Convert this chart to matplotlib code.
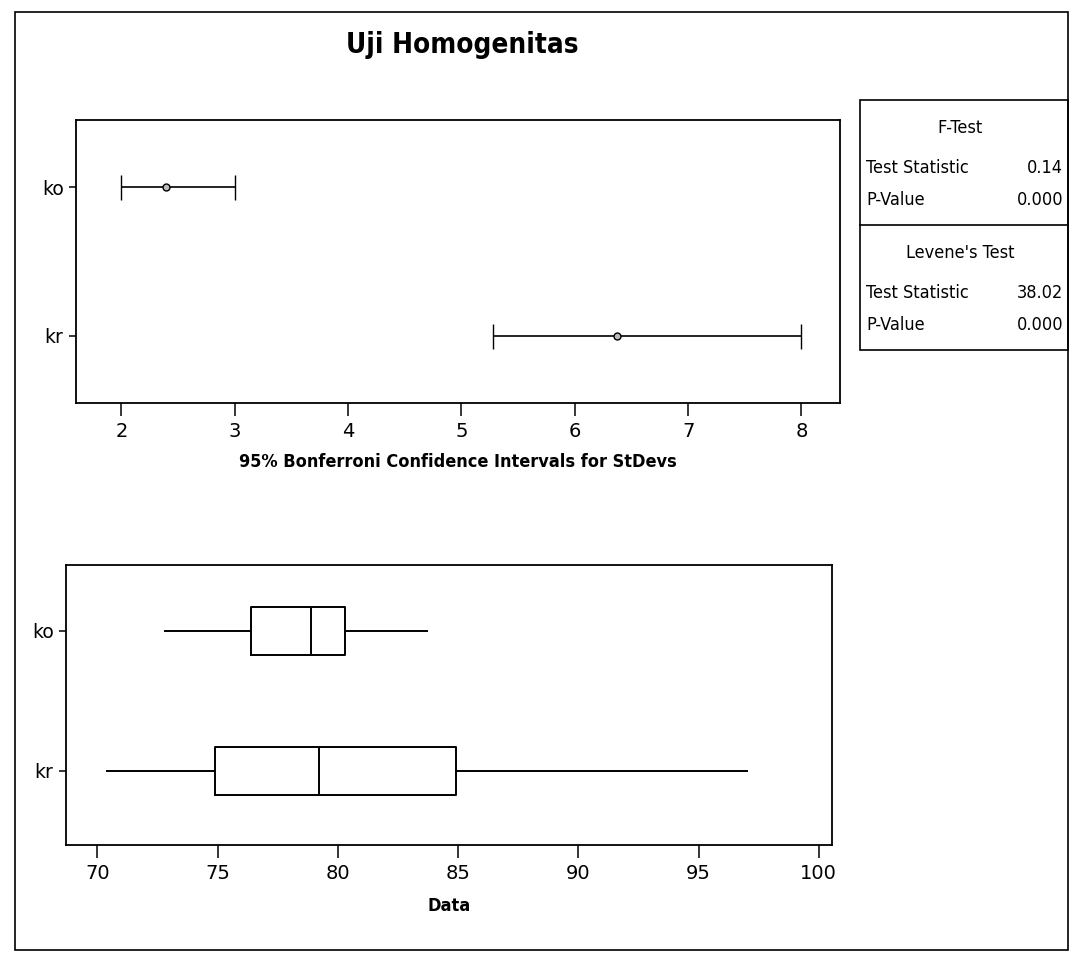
import matplotlib
matplotlib.use("Agg")
import matplotlib.pyplot as plt
from matplotlib.patches import Rectangle
from matplotlib.lines import Line2D

# ---- data ----
groups = ["ko", "kr"]
ci_lower = [2.00, 5.28]
ci_sd = [2.39, 6.37]
ci_upper = [3.00, 8.00]

box_whislo = [72.8, 70.4]
box_q1 = [76.4, 74.9]
box_med = [78.9, 79.2]
box_q3 = [80.3, 84.9]
box_whishi = [83.7, 97.0]

ci_ticks = [2, 3, 4, 5, 6, 7, 8]
data_ticks = [70, 75, 80, 85, 90, 95, 100]

stats_rows = [("F-Test", None), ("Test Statistic", "0.14"), ("P-Value", "0.000"),
              ("Levene's Test", None), ("Test Statistic", "38.02"), ("P-Value", "0.000")]

title = "Uji Homogenitas"
ci_xlabel = "95% Bonferroni Confidence Intervals for StDevs"
box_xlabel = "Data"

FONT = ["DejaVu Sans"]
plt.rcParams["font.family"] = FONT

W, H = 1075, 965
fig = plt.figure(figsize=(W / 100, H / 100), dpi=100)
fig.patch.set_facecolor("white")

def fx(px):
    return px / W

def fy(py):
    return 1 - py / H

# outer frame
fig.add_artist(Rectangle((fx(15), fy(950)), fx(1068) - fx(15), fy(12) - fy(950),
                         transform=fig.transFigure, fill=False, lw=1.2, color="black"))

fig.text(fx(462), fy(45), title, ha="center", va="center", fontsize=20,
         fontweight="bold", fontstretch="condensed")

ypos = [2, 1]  # ko on top

# ---- CI plot ----
ax1 = fig.add_axes([fx(76), fy(403), fx(840) - fx(76), fy(120) - fy(403)])
for y, lo, sd, hi in zip(ypos, ci_lower, ci_sd, ci_upper):
    ax1.errorbar([sd], [y], xerr=[[sd - lo], [hi - sd]], fmt="o", color="black",
                 ms=5, mfc="#bbbbbb", mec="black", mew=1, ecolor="black",
                 elinewidth=1.2, capsize=9, capthick=1.2)
ax1.set_xlim(1.6, 8.34)
ax1.set_ylim(0.55, 2.45)
ax1.set_xticks(ci_ticks)
ax1.set_yticks(ypos)
ax1.set_yticklabels(groups)
ax1.set_xlabel(ci_xlabel, fontsize=13, fontweight="bold", fontstretch="condensed",
               labelpad=8)

# ---- Box plot ----
ax2 = fig.add_axes([fx(66), fy(845), fx(832) - fx(66), fy(565) - fy(845)])
bstats = []
for i in range(len(groups)):
    bstats.append(dict(label=groups[i], whislo=box_whislo[i], q1=box_q1[i],
                       med=box_med[i], q3=box_q3[i], whishi=box_whishi[i], fliers=[]))
ax2.bxp(bstats, positions=ypos, orientation="horizontal", widths=0.34,
        showcaps=False, patch_artist=False,
        boxprops=dict(color="black", lw=1.4),
        whiskerprops=dict(color="black", lw=1.4),
        medianprops=dict(color="black", lw=1.4))
ax2.set_xlim(68.7, 100.55)
ax2.set_ylim(0.47, 2.47)
ax2.set_xticks(data_ticks)
ax2.set_xticklabels([str(t) for t in data_ticks])
ax2.set_yticks(ypos)
ax2.set_yticklabels(groups)
ax2.set_xlabel(box_xlabel, fontsize=13, fontweight="bold", fontstretch="condensed",
               labelpad=10)

for ax in (ax1, ax2):
    for s in ax.spines.values():
        s.set_linewidth(1.3)
    ax.tick_params(axis="x", direction="out", length=9, width=1.1, labelsize=14, pad=5)
    ax.tick_params(axis="y", direction="out", length=5, width=1.1, labelsize=13.5, pad=4)

# ---- stats box ----
bx0, bx1, by0, by1 = 860, 1068, 100, 350
fig.add_artist(Rectangle((fx(bx0), fy(by1)), fx(bx1) - fx(bx0), fy(by0) - fy(by1),
                         transform=fig.transFigure, fill=False, lw=1.2, color="black"))
fig.add_artist(Line2D([fx(bx0), fx(bx1)], [fy(225), fy(225)], transform=fig.transFigure,
                      color="black", lw=1.2))
row_y = [128, 168, 200, 253, 293, 325]
for (lab, val), ry in zip(stats_rows, row_y):
    if val is None:
        fig.text(fx((bx0 + bx1) / 2 - 4), fy(ry), lab, ha="center", va="center",
                 fontsize=13, fontstretch="condensed")
    else:
        fig.text(fx(866), fy(ry), lab, ha="left", va="center", fontsize=13,
                 fontstretch="condensed")
        fig.text(fx(1063), fy(ry), val, ha="right", va="center", fontsize=13,
                 fontstretch="condensed")

fig.savefig("out.png", dpi=100, facecolor="white")
